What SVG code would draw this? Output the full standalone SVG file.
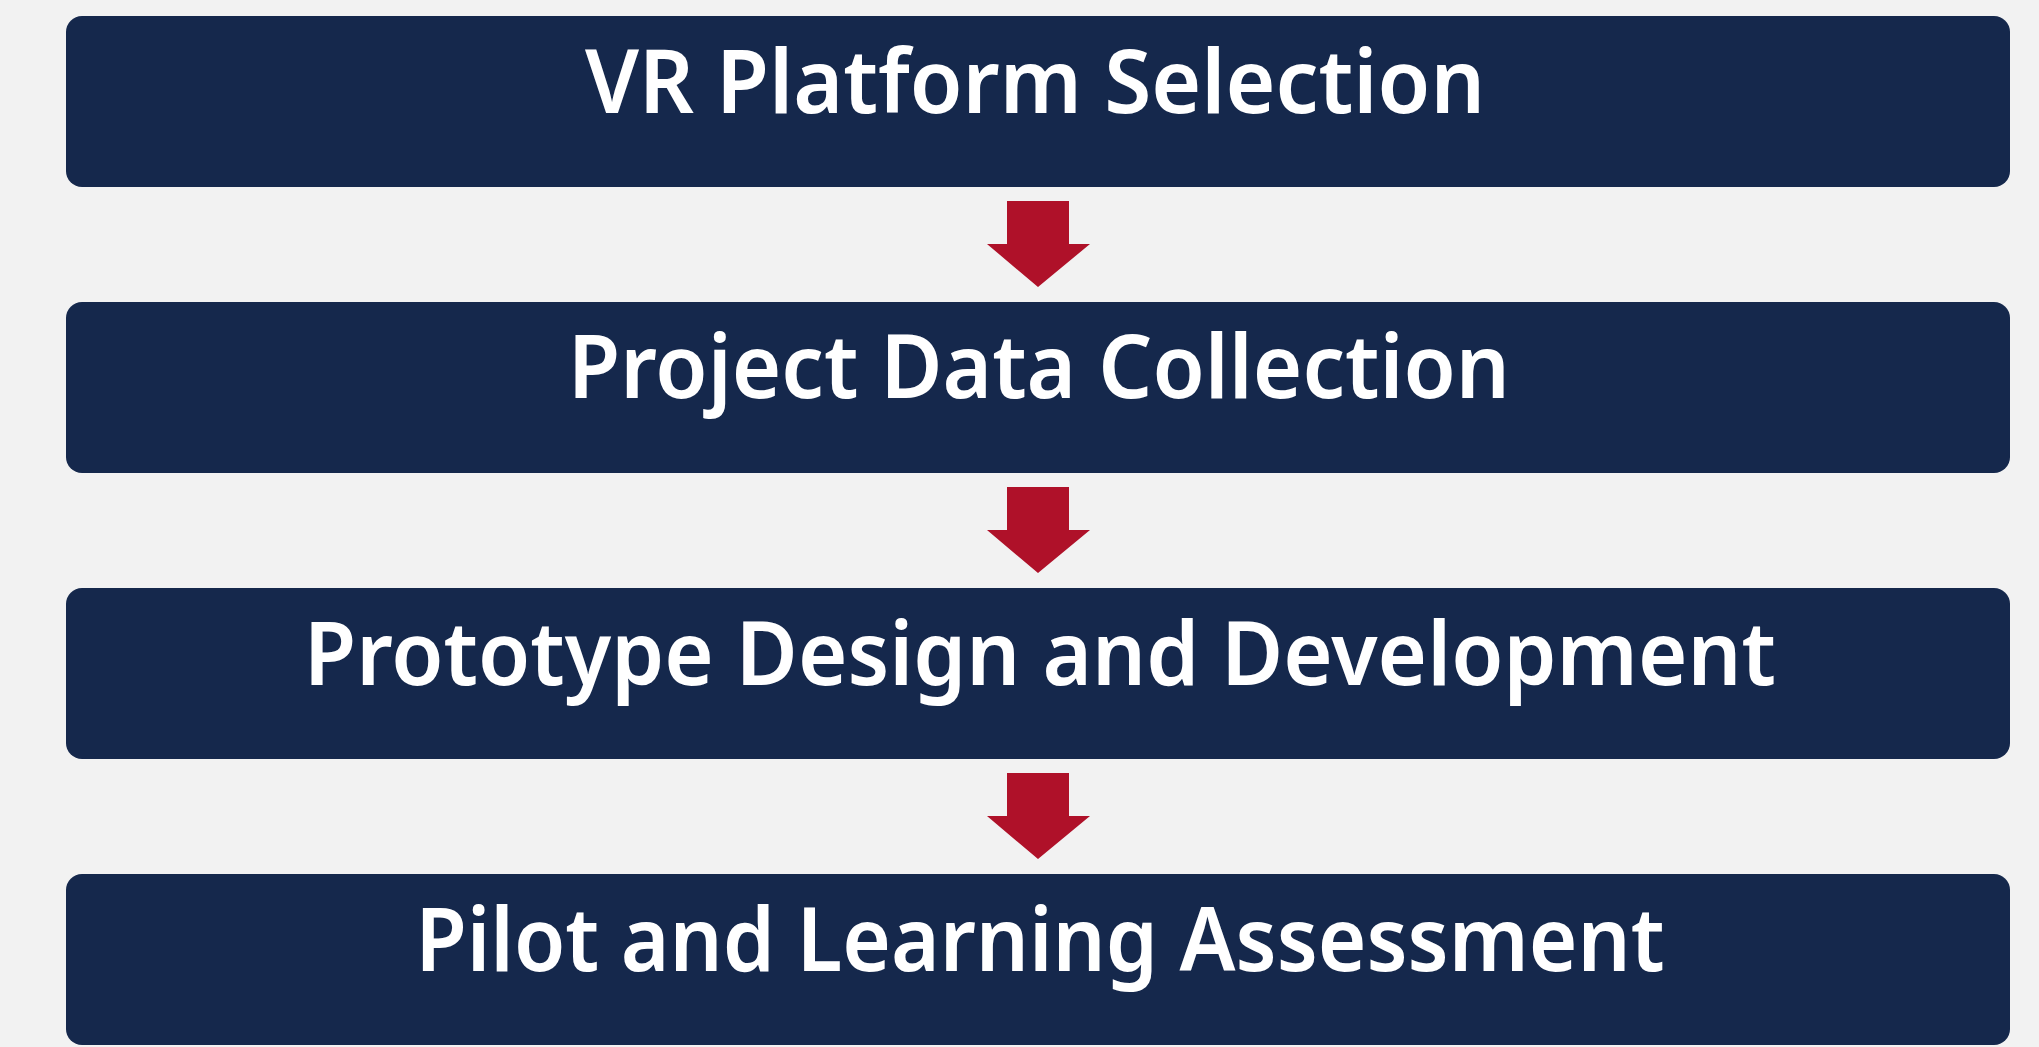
<svg xmlns="http://www.w3.org/2000/svg" width="2039" height="1047" viewBox="0 0 2039 1047">
  <defs>
    <style>
      .box { fill: #15284c; }
      .label { fill: #ffffff; font-family: "Noto Sans", "Open Sans", "Liberation Sans", sans-serif; font-size: 88px; font-weight: 600; text-anchor: middle; }
      .arrow { fill: #af1129; }
    </style>
    <path id="downArrow" d="M1007,201 H1069 V244 H1090 L1038,287 L987,244 H1007 Z"/>
  </defs>
  <rect width="2039" height="1047" fill="#f2f2f2"/>

  <g id="step1">
    <rect class="box" x="66" y="16" width="1944" height="171" rx="16"/>
    <text class="label" x="1035" y="113" textLength="900" lengthAdjust="spacingAndGlyphs">VR Platform Selection</text>
  </g>
  <g id="step2">
    <rect class="box" x="66" y="302" width="1944" height="171" rx="16"/>
    <text class="label" x="1039" y="398" textLength="942" lengthAdjust="spacingAndGlyphs">Project Data Collection</text>
  </g>
  <g id="step3">
    <rect class="box" x="66" y="588" width="1944" height="171" rx="16"/>
    <text class="label" x="1040" y="685" textLength="1472" lengthAdjust="spacingAndGlyphs">Prototype Design and Development</text>
  </g>
  <g id="step4">
    <rect class="box" x="66" y="874" width="1944" height="171" rx="16"/>
    <text class="label" x="1040" y="971" textLength="1249" lengthAdjust="spacingAndGlyphs">Pilot and Learning Assessment</text>
  </g>

  <g id="connectors">
    <use class="arrow" href="#downArrow"/>
    <use class="arrow" href="#downArrow" transform="translate(0,286)"/>
    <use class="arrow" href="#downArrow" transform="translate(0,572)"/>
  </g>
</svg>
